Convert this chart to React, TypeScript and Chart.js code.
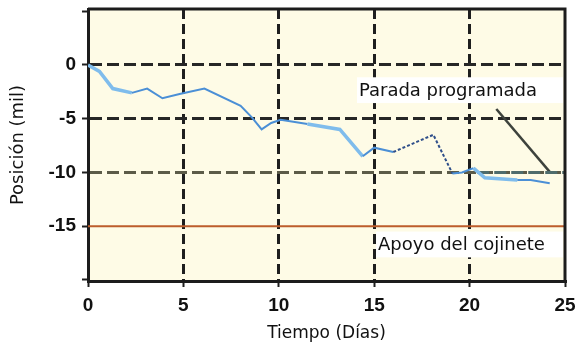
import React, { useEffect, useRef } from "react";
import { Chart, registerables } from "chart.js";

Chart.register(...registerables);

// Shaft position over time (days, mil)
const days = [0, 0.6, 1.3, 2.3, 3.1, 3.9, 4.8, 6.1, 8.0, 8.6, 9.1, 9.6, 10.1, 11.5, 13.2, 14.4, 15.0, 16.0, 18.1, 19.1, 19.6, 20.2, 20.8, 22.5, 23.2, 24.2];
const position = [0, -0.6, -2.2, -2.6, -2.2, -3.1, -2.7, -2.2, -3.8, -4.9, -6.0, -5.4, -5.1, -5.5, -6.0, -8.5, -7.7, -8.1, -6.5, -10.1, -10.0, -9.6, -10.5, -10.7, -10.7, -11.0];

// Bearing clearance limit
const bearingDays = [0, 25];
const bearingLevel = [-15, -15];

// Scheduled stop level and its label pointer
const stopDays = [20.4, 25];
const stopLevel = [-10, -10];
const pointerDays = [21.4, 24.2];
const pointerLevel = [-4.1, -9.95];

const xTicks = [0, 5, 10, 15, 20, 25];
const yTicks = [-15, -10, -5, 0];

const stopLabel = "Parada programada";
const bearingLabel = "Apoyo del cojinete";

const pts = (xs: number[], ys: number[]) => xs.map((x, i) => ({ x, y: ys[i] }));

const tickFont = { family: "'Liberation Sans', 'DejaVu Sans', sans-serif", size: 19, weight: "bold" as const, lineHeight: 1 };

export default function App() {
  const ref = useRef<HTMLCanvasElement | null>(null);

  useEffect(() => {
    if (!ref.current) return;

    const plotBackground = {
      id: "plotBackground",
      beforeDraw(chart: any) {
        const { ctx, chartArea: a } = chart;
        ctx.save();
        ctx.fillStyle = "#fefbe6";
        ctx.fillRect(a.left, a.top, a.right - a.left, a.bottom - a.top);
        ctx.restore();
      },
    };

    const labelBoxes = {
      id: "labelBoxes",
      beforeDatasetsDraw(chart: any) {
        const { ctx, chartArea: a, scales } = chart;
        const xs = scales.x;
        const ys = scales.y;
        const box = (x0: number, yTop: number, yBot: number, tx: number, ty: number, text: string) => {
          const l = xs.getPixelForValue(x0);
          const t = ys.getPixelForValue(yTop);
          const b = ys.getPixelForValue(yBot);
          ctx.fillStyle = "#ffffff";
          ctx.fillRect(l, t, a.right - 2 - l, b - t);
          ctx.fillStyle = "#111111";
          ctx.font = "18px 'DejaVu Sans', sans-serif";
          ctx.textBaseline = "middle";
          ctx.textAlign = "left";
          ctx.fillText(text, xs.getPixelForValue(tx), ys.getPixelForValue(ty));
        };
        ctx.save();
        box(14.1, -1.15, -3.55, 14.2, -2.45, stopLabel);
        box(15.1, -15.5, -17.9, 15.2, -16.75, bearingLabel);
        ctx.restore();
      },
    };

    const frame = {
      id: "frame",
      afterDraw(chart: any) {
        const { ctx, chartArea: a } = chart;
        ctx.save();
        ctx.strokeStyle = "#1c1c1c";
        ctx.lineWidth = 3;
        ctx.beginPath();
        ctx.moveTo(a.left, a.top);
        ctx.lineTo(a.right, a.top);
        ctx.lineTo(a.right, a.bottom);
        ctx.stroke();
        ctx.restore();
      },
    };

    const inSpan = (c: any, lo: number, hi: number) => c.p0.parsed.x >= lo && c.p1.parsed.x <= hi;
    const glow = (c: any) => inSpan(c, 0, 2.3) || inSpan(c, 11.5, 14.4) || inSpan(c, 20.2, 22.5);

    const chart = new Chart(ref.current, {
      type: "line",
      data: {
        datasets: [
          {
            label: "Posición",
            data: pts(days, position),
            borderColor: "#4b8fd6",
            borderWidth: 2,
            pointRadius: 0,
            tension: 0,
            segment: {
              borderColor: (c: any) => (inSpan(c, 16, 19.2) ? "#2f4f8a" : glow(c) ? "#7fbcec" : "#4b8fd6"),
              borderDash: (c: any) => (inSpan(c, 16, 19.2) ? [3, 2] : undefined),
              borderWidth: (c: any) => (glow(c) ? 3.5 : 2),
            } as any,
          },
          {
            label: bearingLabel,
            data: pts(bearingDays, bearingLevel),
            borderColor: "#bd5d2b",
            borderWidth: 2,
            pointRadius: 0,
          },
          {
            label: stopLabel,
            data: pts(stopDays, stopLevel),
            borderColor: "#4e6c6c",
            borderWidth: 3,
            borderDash: [12, 5],
            pointRadius: 0,
          },
          {
            label: "pointer",
            data: pts(pointerDays, pointerLevel),
            borderColor: "#3d423c",
            borderWidth: 2.5,
            pointRadius: 0,
          },
        ],
      },
      options: {
        responsive: false,
        animation: false,
        layout: { padding: { top: 9, right: 14, left: 0, bottom: 0 } },
        plugins: { legend: { display: false }, tooltip: { enabled: false } },
        scales: {
          x: {
            type: "linear",
            min: 0,
            max: 25,
            afterFit: (s: any) => {
              s.height = 72;
              s.paddingLeft = 0;
              s.paddingRight = 0;
            },
            afterBuildTicks: (s: any) => { s.ticks = xTicks.map((v) => ({ value: v })); },
            ticks: { color: "#111", font: tickFont, padding: 9, maxRotation: 0 },
            grid: {
              lineWidth: 3,
              color: (c: any) => (c.tick && (c.tick.value === 0 || c.tick.value === 25) ? "rgba(0,0,0,0)" : "#1e1e1e"),
              tickColor: "#1e1e1e",
              tickLength: 6,
              tickWidth: 2,
            },
            border: { display: true, color: "#1c1c1c", width: 3, dash: [10, 5] },
            title: {
              display: true,
              text: "Tiempo (Días)",
              color: "#111",
              font: { family: "'DejaVu Sans', sans-serif", size: 17 },
              padding: { top: 0, bottom: 9 },
            },
          },
          y: {
            type: "linear",
            min: -20.1,
            max: 5.2,
            afterFit: (s: any) => {
              s.width = 88;
              s.paddingTop = 0;
              s.paddingBottom = 0;
            },
            afterBuildTicks: (s: any) => { s.ticks = [-20, ...yTicks, 5].map((v) => ({ value: v })); },
            ticks: {
              color: "#111",
              font: tickFont,
              padding: 6,
              callback: (v: any) => (yTicks.includes(Number(v)) ? String(v) : ""),
            },
            grid: {
              lineWidth: 3,
              color: (c: any) => {
                const v = c.tick ? c.tick.value : null;
                if (v === -10) return "#5c5b48";
                if (v === -5 || v === 0) return "#262626";
                return "rgba(0,0,0,0)";
              },
              tickColor: "#1e1e1e",
              tickLength: 6,
              tickWidth: 2,
            },
            border: { display: true, color: "#1c1c1c", width: 3, dash: [12, 5] },
            title: {
              display: true,
              text: "Posición (mil)",
              color: "#111",
              font: { family: "'DejaVu Sans', sans-serif", size: 18 },
              padding: { top: 8, bottom: 0 },
            },
          },
        },
      },
      plugins: [plotBackground, labelBoxes, frame],
    });

    return () => chart.destroy();
  }, []);

  return (
    <div style={{ position: "fixed", left: 0, top: 0, width: 579, height: 353, background: "#ffffff" }}>
      <canvas ref={ref} width={579} height={353} />
    </div>
  );
}
